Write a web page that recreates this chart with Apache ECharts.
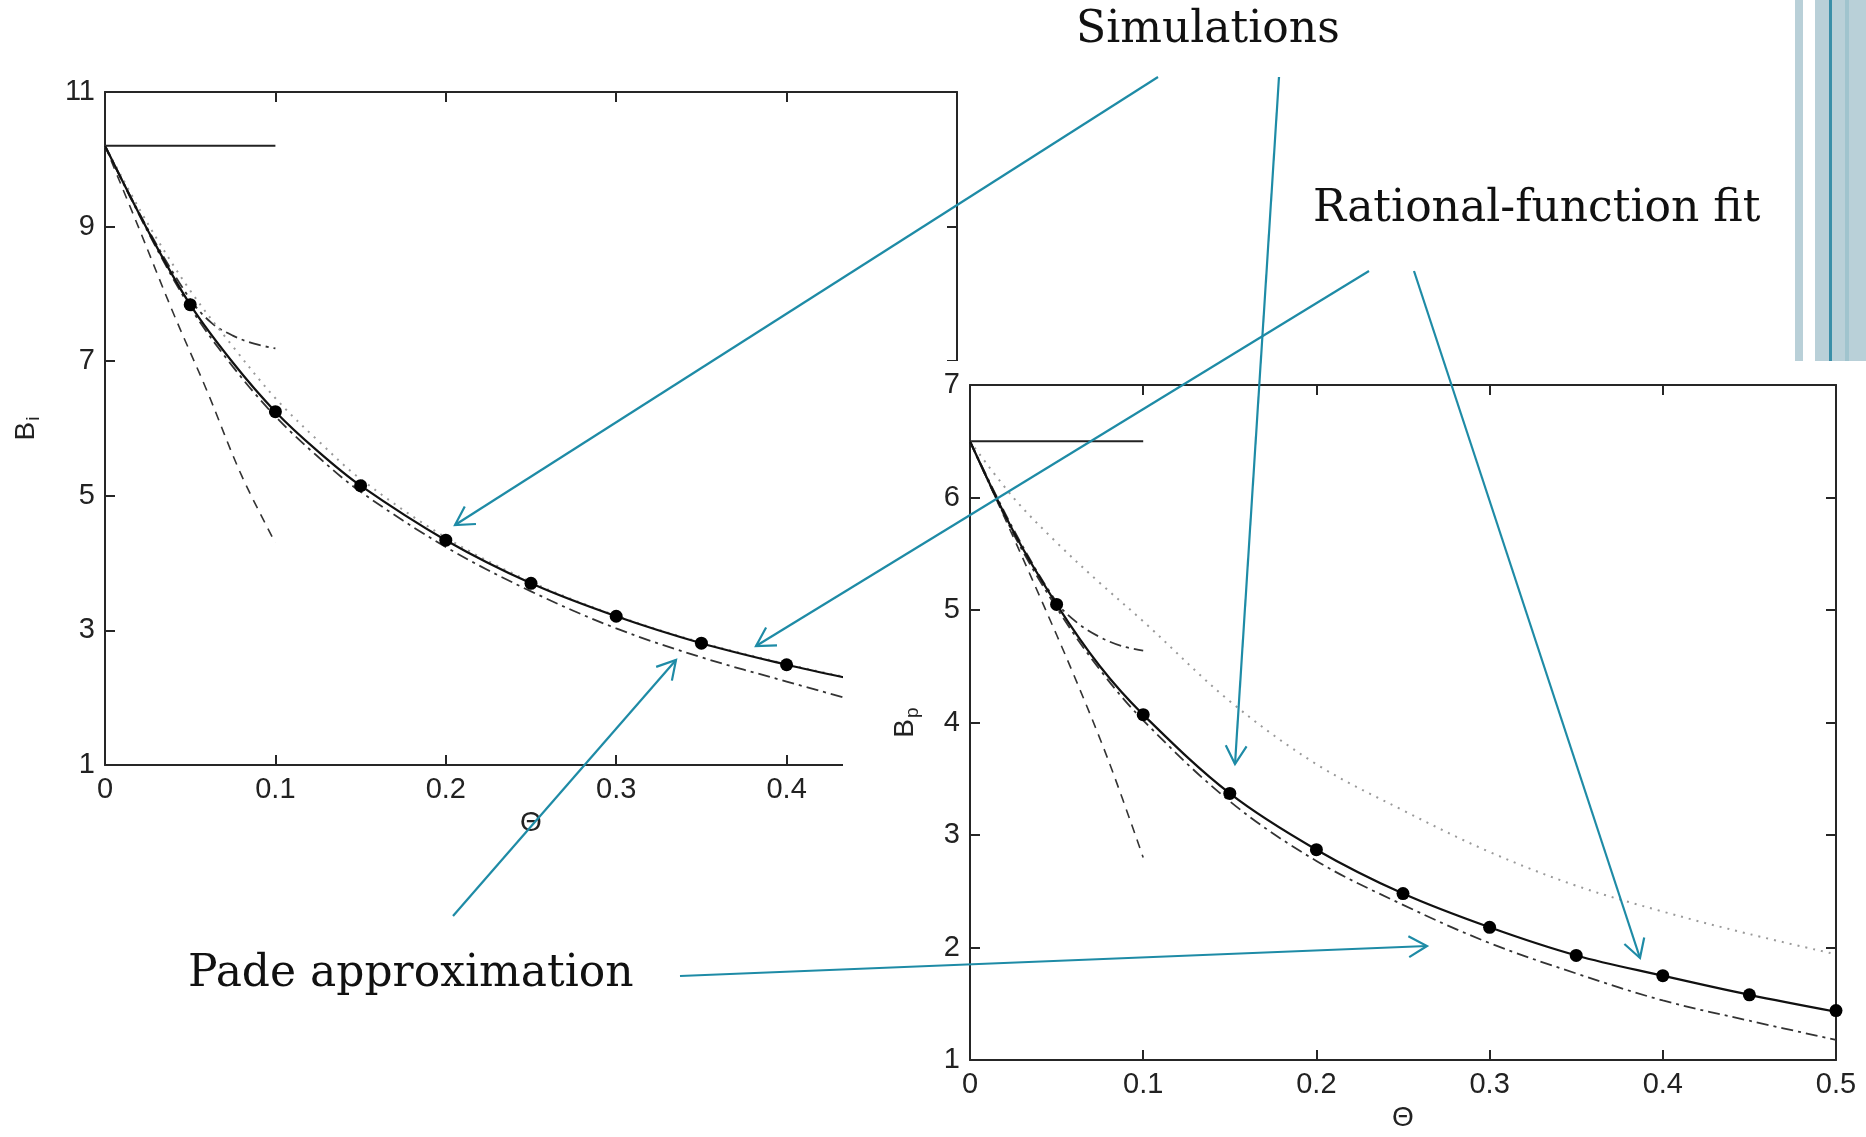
<!DOCTYPE html>
<html>
<head>
<meta charset="utf-8">
<script src="https://cdn.jsdelivr.net/npm/echarts@6/dist/echarts.min.js"></script>
<style>
  html, body { margin: 0; padding: 0; background: #fff; }
  #chart { width: 1866px; height: 1137px; }
</style>
</head>
<body>
<div id="chart"></div>
<script>
// ---- left panel (B_i) ----
const thetaSimL = [0.05, 0.1, 0.15, 0.2, 0.25, 0.3, 0.35, 0.4]
const biSim = [7.84, 6.25, 5.15, 4.34, 3.70, 3.21, 2.81, 2.49]
const thetaFitL = [0, 0.025, 0.05, 0.075, 0.1, 0.125, 0.15, 0.2, 0.25, 0.3, 0.35, 0.4, 0.434]
const biFit = [10.2, 8.95, 7.84, 6.98, 6.25, 5.66, 5.15, 4.34, 3.70, 3.21, 2.81, 2.49, 2.30]
const biPade = [10.2, 8.93, 7.8, 6.92, 6.18, 5.58, 5.06, 4.24, 3.58, 3.03, 2.6, 2.24, 2.0]
const biDotted = [10.2, 9.05, 8.05, 7.22, 6.45, 5.82, 5.25, 4.38, 3.72, 3.22, 2.82, 2.5, 2.31]
const thetaShortL = [0, 0.025, 0.05, 0.0625, 0.075, 0.0875, 0.1]
const biShort = [10.2, 8.97, 7.92, 7.57, 7.38, 7.26, 7.19]
const thetaDashL = [0, 0.02, 0.04, 0.06, 0.08, 0.1]
const biDash = [10.2, 8.97, 7.72, 6.55, 5.31, 4.3]
const thetaLimit = [0, 0.1]
const biLimit = [10.2, 10.2]

// ---- right panel (B_p) ----
const thetaSimR = [0.05, 0.1, 0.15, 0.2, 0.25, 0.3, 0.35, 0.4, 0.45, 0.5]
const bpSim = [5.05, 4.07, 3.37, 2.87, 2.48, 2.18, 1.93, 1.75, 1.58, 1.44]
const thetaFitR = [0, 0.025, 0.05, 0.075, 0.1, 0.15, 0.2, 0.25, 0.3, 0.35, 0.4, 0.45, 0.5]
const bpFit = [6.5, 5.7, 5.05, 4.5, 4.07, 3.37, 2.87, 2.48, 2.18, 1.93, 1.75, 1.58, 1.43]
const bpPade = [6.5, 5.68, 5.02, 4.47, 4.02, 3.3, 2.77, 2.38, 2.04, 1.77, 1.53, 1.35, 1.18]
const bpDotted = [6.5, 6.0, 5.6, 5.24, 4.9, 4.19, 3.63, 3.22, 2.85, 2.55, 2.32, 2.12, 1.94]
const thetaShortR = [0, 0.025, 0.05, 0.0625, 0.075, 0.0875, 0.1]
const bpShort = [6.5, 5.72, 5.07, 4.88, 4.76, 4.68, 4.64]
const thetaDashR = [0, 0.02, 0.04, 0.06, 0.08, 0.1]
const bpDash = [6.5, 5.82, 5.13, 4.42, 3.66, 2.8]
const bpLimit = [6.5, 6.5]

const xTicks = [0, 0.5, 0.1]   // min, max, interval
const biTicks = [1, 11, 2]
const bpTicks = [1, 7, 1]

const zip = (xs, ys) => xs.map((x, i) => [x, ys[i]])
const TICK_FONT = 'Liberation Sans, Arial, sans-serif'
const AX = '#262626'
const TEAL = '#1E8BA6'

function axis(pos, ticks, grid, labels, z, extra) {
  return Object.assign({
    type: 'value', gridIndex: grid, position: pos,
    min: ticks[0], max: ticks[1], interval: ticks[2], z: z,
    axisLine: { show: true, onZero: false, lineStyle: { color: AX, width: 2 } },
    axisTick: { show: true, inside: true, length: 10, lineStyle: { color: AX, width: 2 } },
    axisLabel: { show: labels, color: '#222', fontSize: 29, fontFamily: TICK_FONT, margin: 10 },
    splitLine: { show: false }
  }, extra || {})
}

function line(xs, ys, ax, lineStyle, z, smooth) {
  return {
    type: 'line', xAxisIndex: ax, yAxisIndex: ax, z: z,
    data: zip(xs, ys), symbol: 'none', smooth: smooth === undefined ? 0.35 : smooth,
    lineStyle: lineStyle, silent: true, animation: false
  }
}
function dots(xs, ys, ax, z) {
  return {
    type: 'scatter', xAxisIndex: ax, yAxisIndex: ax, z: z,
    data: zip(xs, ys), symbol: 'circle', symbolSize: 13,
    itemStyle: { color: '#000', opacity: 1 }, animation: false
  }
}

const solid = { color: '#111', width: 2.2 }
const dashed = { color: '#333', width: 1.6, type: [9, 7] }
const dotted = { color: '#9a9a9a', width: 2, type: [2, 6] }
const dashDot = { color: '#333', width: 1.8, type: [12, 5, 3, 5] }
const limit = { color: '#222', width: 2 }

const nameStyle = {
  color: '#222', fontFamily: TICK_FONT,
  rich: {
    b: { fontSize: 28, fontFamily: TICK_FONT, color: '#222' },
    s: { fontSize: 19, fontFamily: TICK_FONT, color: '#222', padding: [14, 0, 0, 1] }
  }
}

function arrow(x1, y1, x2, y2) {
  const a = Math.atan2(y2 - y1, x2 - x1)
  const L = 21, w = 0.52
  const p1 = [x2 - L * Math.cos(a - w), y2 - L * Math.sin(a - w)]
  const p2 = [x2 - L * Math.cos(a + w), y2 - L * Math.sin(a + w)]
  const st = { stroke: TEAL, lineWidth: 2.2, fill: null }
  return [
    { type: 'line', z: 30, shape: { x1: x1, y1: y1, x2: x2, y2: y2 }, style: st },
    { type: 'polyline', z: 30, shape: { points: [p1, [x2, y2], p2] }, style: st }
  ]
}

function label(text, x, y) {
  return {
    type: 'text', z: 30, x: x, y: y,
    style: { text: text, fill: '#111', font: '44px "DejaVu Serif", serif', textVerticalAlign: 'middle' }
  }
}

const chart = echarts.init(document.getElementById('chart'), null, { renderer: 'canvas' })

chart.setOption({
  animation: false,
  backgroundColor: '#fff',
  grid: [
    { left: 105, top: 92, width: 852, height: 673 },
    { left: 970, top: 385, width: 866, height: 684 }
  ],
  xAxis: [
    axis('bottom', xTicks, 0, true, 1, {
      name: 'Θ', nameLocation: 'middle', nameGap: 42,
      nameTextStyle: { fontSize: 28, fontFamily: TICK_FONT, color: '#222' }
    }),
    axis('top', xTicks, 0, false, 1),
    axis('bottom', xTicks, 1, true, 10, {
      name: 'Θ', nameLocation: 'middle', nameGap: 40,
      nameTextStyle: { fontSize: 28, fontFamily: TICK_FONT, color: '#222' }
    }),
    axis('top', xTicks, 1, false, 10)
  ],
  yAxis: [
    axis('left', biTicks, 0, true, 1, {
      name: '{b|B}{s|i}', nameLocation: 'middle', nameGap: 62, nameRotate: 90,
      nameTextStyle: nameStyle
    }),
    axis('right', biTicks, 0, false, 1),
    axis('left', bpTicks, 1, true, 10, {
      name: '{b|B}{s|p}', nameLocation: 'middle', nameGap: 48, nameRotate: 90,
      nameTextStyle: nameStyle
    }),
    axis('right', bpTicks, 1, false, 10)
  ],
  series: [
    // left panel; index 0 axes
    line(thetaLimit, biLimit, 0, limit, 2, false),
    line(thetaDashL, biDash, 0, dashed, 2),
    line(thetaShortL, biShort, 0, dashDot, 2),
    line(thetaFitL, biDotted, 0, dotted, 2),
    line(thetaFitL, biPade, 0, dashDot, 2),
    line(thetaFitL, biFit, 0, solid, 3),
    dots(thetaSimL, biSim, 0, 4),
    // right panel; index 2 axes
    line(thetaLimit, bpLimit, 2, limit, 11, false),
    line(thetaDashR, bpDash, 2, dashed, 11),
    line(thetaShortR, bpShort, 2, dashDot, 11),
    line(thetaFitR, bpDotted, 2, dotted, 11),
    line(thetaFitR, bpPade, 2, dashDot, 11),
    line(thetaFitR, bpFit, 2, solid, 12),
    dots(thetaSimR, bpSim, 2, 13)
  ],
  graphic: [
    // slide decoration bars, top right
    { type: 'rect', z: 0, shape: { x: 1795, y: 0, width: 8, height: 361 }, style: { fill: '#B9D0D8' } },
    { type: 'rect', z: 0, shape: { x: 1815, y: 0, width: 51, height: 361 }, style: { fill: '#B9D0D8' } },
    { type: 'rect', z: 0, shape: { x: 1829, y: 0, width: 3, height: 361 }, style: { fill: '#3A8FA8' } },
    { type: 'rect', z: 0, shape: { x: 1845, y: 0, width: 4, height: 361 }, style: { fill: '#A0C4CE' } },
    // white backing of the second figure, laid over the first one
    { type: 'rect', z: 5, shape: { x: 843, y: 361, width: 1023, height: 776 }, style: { fill: '#fff' } },
    label('Simulations', 1076, 31),
    label('Rational-function fit', 1313, 210),
    label('Pade approximation', 188, 975),
    ...arrow(1158, 77, 455, 525),
    ...arrow(1279, 77, 1235, 764),
    ...arrow(1369, 271, 756, 646),
    ...arrow(1414, 271, 1640, 958),
    ...arrow(453, 916, 676, 660),
    ...arrow(680, 976, 1427, 946)
  ]
})
</script>
</body>
</html>
